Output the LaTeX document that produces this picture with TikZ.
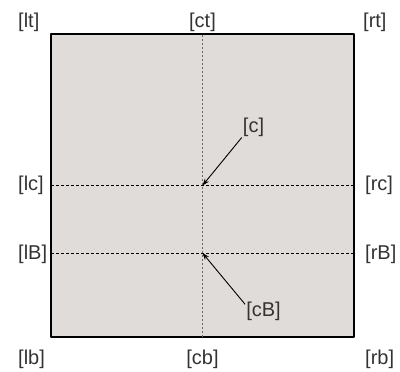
\documentclass[tikz,border=0pt]{standalone}
\usepackage{fontspec}
\setmainfont{Liberation Sans}
\usetikzlibrary{arrows.meta}
\definecolor{boxfill}{RGB}{224,220,217}
\definecolor{labelgray}{RGB}{51,51,51}

\begin{document}
\begin{tikzpicture}[x=1pt, y=1pt, line join=round, >={Stealth[length=7pt,width=5pt]},
    lbl/.style={inner sep=1pt, text=labelgray, font=\fontsize{20}{24}\selectfont},
    lbll/.style={lbl, anchor=west},
    pointer/.style={->, line width=0.9pt}]
  \useasboundingbox (0,0) rectangle (400,372);

  % Corners and guide points
  \coordinate (SW) at (51,35);
  \coordinate (NE) at (354,338);
  \coordinate (C) at (202.5,186.5);
  \coordinate (B) at (202.5,119);

  % The box
  \draw[line width=1.3pt, fill=boxfill] (SW) rectangle (NE);

  % Guide lines through the centre and the baseline
  \draw[line width=1pt, black!60, dash pattern=on 2pt off 2pt] (C |- SW) -- (C |- NE);
  \draw[line width=0.9pt, dash pattern=on 3pt off 2pt] (SW |- C) -- (NE |- C);
  \draw[line width=0.9pt, dash pattern=on 3pt off 2pt] (SW |- B) -- (NE |- B);

  % Labels
  \node[lbll] (lt) at (17,350) {[lt]};
  \node[lbl]  (ct) at (202.5,350) {[ct]};
  \node[lbll] (rt) at (362,350) {[rt]};
  \node[lbll] (lc) at (17,186.5) {[lc]};
  \node[lbll] (rc) at (364,186.5) {[rc]};
  \node[lbll] (lB) at (17,118) {[lB]};
  \node[lbll] (rB) at (364,118) {[rB]};
  \node[lbll] (lb) at (17,13) {[lb]};
  \node[lbl]  (cb) at (202.5,13) {[cb]};
  \node[lbll] (rb) at (364,13) {[rb]};

  % Pointers to the centre and to the baseline
  \node[lbl] (cl) at (253.5,245) {[c]};
  \node[lbl] (cBl) at (263.5,61) {[cB]};
  \draw[pointer] (cl.south west) -- (C);
  \draw[pointer] (cBl.160) -- (B);
\end{tikzpicture}
\end{document}
